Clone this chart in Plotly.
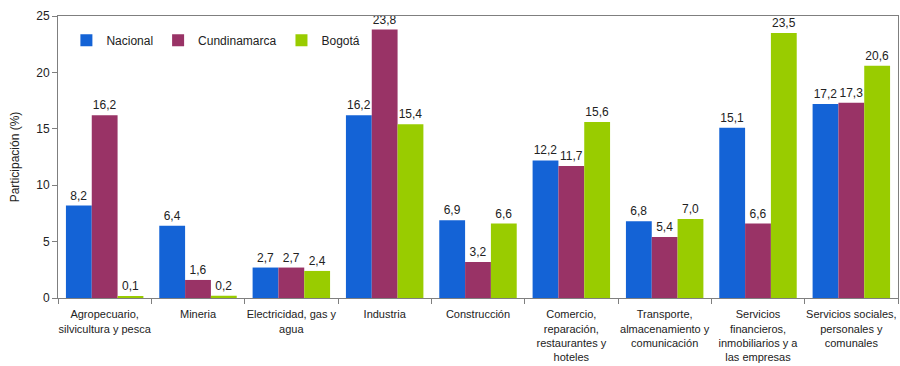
import plotly.graph_objs as go

categories = [
    'Agropecuario,<br>silvicultura y pesca',
    'Mineria',
    'Electricidad, gas y<br>agua',
    'Industria',
    'Construcción',
    'Comercio,<br>reparación,<br>restaurantes y<br>hoteles',
    'Transporte,<br>almacenamiento y<br>comunicación',
    'Servicios<br>financieros,<br>inmobiliarios y a<br>las empresas',
    'Servicios sociales,<br>personales y<br>comunales',
]
nacional = [8.2, 6.4, 2.7, 16.2, 6.9, 12.2, 6.8, 15.1, 17.2]
cundinamarca = [16.2, 1.6, 2.7, 23.8, 3.2, 11.7, 5.4, 6.6, 17.3]
bogota = [0.1, 0.2, 2.4, 15.4, 6.6, 15.6, 7.0, 23.5, 20.6]

series = [
    ('Nacional', nacional, '#1463d6'),
    ('Cundinamarca', cundinamarca, '#993366'),
    ('Bogotá', bogota, '#99cc00'),
]

fig = go.Figure()
for name, values, color in series:
    fig.add_traces(
        go.Bar(
            name=name,
            x=categories,
            y=values,
            marker={'color': color, 'line': {'width': 0}},
            texttemplate='%{y:.1f}',
            textposition='outside',
            cliponaxis=False,
            textfont={'size': 12, 'color': '#222222'},
        )
    )

fig.update_layout(
    width=900,
    height=366,
    margin={'l': 58, 'r': 2, 't': 16, 'b': 68},
    paper_bgcolor='white',
    plot_bgcolor='white',
    separators=',.',
    barmode='group',
    bargap=0.17,
    bargroupgap=0,
    font={'family': 'Liberation Sans, Arial, sans-serif', 'size': 11, 'color': '#222222'},
    showlegend=True,
    legend={
        'orientation': 'h',
        'x': 0.01,
        'y': 0.965,
        'xanchor': 'left',
        'yanchor': 'top',
        'font': {'size': 12},
        'itemwidth': 30,
        'tracegroupgap': 0,
        'bgcolor': 'rgba(0,0,0,0)',
    },
    xaxis={
        'showline': True,
        'linecolor': '#7f7f7f',
        'mirror': True,
        'ticks': 'outside',
        'tickson': 'boundaries',
        'ticklen': 5,
        'tickcolor': '#7f7f7f',
        'tickfont': {'size': 11},
        'tickangle': 0,
        'ticklabelstandoff': 6,
    },
    yaxis={
        'range': [0, 25],
        'dtick': 5,
        'showgrid': False,
        'zeroline': False,
        'showline': True,
        'linecolor': '#7f7f7f',
        'mirror': True,
        'ticks': 'outside',
        'ticklen': 5,
        'tickcolor': '#7f7f7f',
        'tickfont': {'size': 12},
        'title': {'text': 'Participación (%)', 'font': {'size': 12}, 'standoff': 14},
    },
)

fig.write_html(
    'out.html',
    config={'displayModeBar': False},
    post_script="document.body.style.margin='0';",
)
